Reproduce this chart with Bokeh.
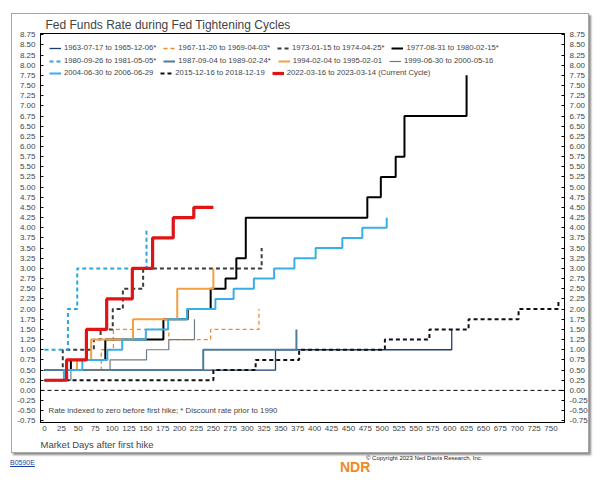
from bokeh.plotting import figure
from bokeh.layouts import column
from bokeh.models import (Range1d, FixedTicker, LinearAxis, Span, Label, Legend,
                          LegendItem, PrintfTickFormatter, Title, Div)
from bokeh.embed import file_html
from bokeh.resources import INLINE

# ---------------- data (market days after first hike, rate change) ----------------
days_1963 = [0, 342, 603]
rate_1963 = [0.5, 1.0, 1.5]

days_1967 = [0, 84, 102, 184, 246, 317.5]
rate_1967 = [0.5, 1.0, 1.5, 1.25, 1.5, 2.0]

days_1973 = [0, 27, 73, 83, 101, 116, 146, 321.5]
rate_1973 = [0.5, 1.0, 1.25, 1.5, 2.0, 2.5, 3.0, 3.5]

days_1977 = [0, 39, 90, 176, 212, 246, 268, 284, 298, 478, 498, 520, 533, 625]
rate_1977 = [0.5, 0.75, 1.25, 1.75, 2.0, 2.5, 2.75, 3.25, 4.25, 4.75, 5.25, 5.75, 6.75, 7.75]

days_1980 = [0, 34.6, 48.4, 151]
rate_1980 = [1.0, 2.0, 3.0, 4.0]

days_1987 = [0, 235, 373]
rate_1987 = [0.5, 1.0, 1.5]

days_1994 = [0, 31, 48, 69, 131, 196.5, 250]
rate_1994 = [0.25, 0.5, 0.75, 1.25, 1.75, 2.5, 3.0]

days_1999 = [0, 39, 97, 151, 184, 222]
rate_1999 = [0.25, 0.5, 0.75, 1.0, 1.25, 1.75]

days_2004 = [0, 28.6, 56, 93, 115, 150, 183, 211, 253, 280, 310, 340, 370, 401.5, 441, 470.6, 506.7]
rate_2004 = [0.25, 0.5, 0.75, 1.0, 1.25, 1.5, 1.75, 2.0, 2.25, 2.5, 2.75, 3.0, 3.25, 3.5, 3.75, 4.0, 4.25]

days_2015 = [0, 250, 312.6, 377, 504, 570, 628, 702, 761]
rate_2015 = [0.25, 0.5, 0.75, 1.0, 1.25, 1.5, 1.75, 2.0, 2.25]

days_2022 = [0, 32.6, 62, 92, 130, 160, 190.6, 221, 250]
rate_2022 = [0.25, 0.75, 1.5, 2.25, 3.0, 3.75, 4.25, 4.5, 4.5]

labels = [
    "1963-07-17 to 1965-12-06*", "1967-11-20 to 1969-04-03*", "1973-01-15 to 1974-04-25*",
    "1977-08-31 to 1980-02-15*", "1980-09-26 to 1981-05-05*", "1987-09-04 to 1989-02-24*",
    "1994-02-04 to 1995-02-01", "1999-06-30 to 2000-05-16", "2004-06-30 to 2006-06-29",
    "2015-12-16 to 2018-12-19", "2022-03-16 to 2023-03-14 (Current Cycle)",
]
x_ticks = list(range(0, 751, 25))
y_ticks = [i * 0.25 for i in range(-3, 36)]

# ---------------- styles ----------------
FONT = "'Liberation Sans Narrow', 'Liberation Sans', Arial, sans-serif"
styles = [
    dict(color="#1d3f70", width=1.3, dash="solid"),
    dict(color="#f08a2c", width=1.3, dash="4 3"),
    dict(color="#3a3a3a", width=2.0, dash="4 3"),
    dict(color="#000000", width=2.0, dash="solid"),
    dict(color="#2aa5e0", width=2.0, dash="4 3"),
    dict(color="#4d7c9c", width=2.0, dash="solid"),
    dict(color="#f5a040", width=2.0, dash="solid"),
    dict(color="#6e7d85", width=1.2, dash="solid"),
    dict(color="#38aee8", width=2.0, dash="solid"),
    dict(color="#111111", width=2.0, dash="4 3"),
    dict(color="#e01414", width=3.2, dash="solid"),
]
series = [(days_1963, rate_1963), (days_1967, rate_1967), (days_1973, rate_1973),
          (days_1977, rate_1977), (days_1980, rate_1980), (days_1987, rate_1987),
          (days_1994, rate_1994), (days_1999, rate_1999), (days_2004, rate_2004),
          (days_2015, rate_2015), (days_2022, rate_2022)]

p = figure(width=578, height=440, output_backend="svg", toolbar_location=None,
           x_range=Range1d(-6, 770), y_range=Range1d(-0.79, 8.78),
           min_border_left=28, min_border_right=26, min_border_top=19, min_border_bottom=32)
p.margin = (13, 0, 0, 11)
p.styles = {"border": "1px solid #a8a8a8", "box-shadow": "2px 2px 2px #8a8a8a"}

p.title.text = "Fed Funds Rate during Fed Tightening Cycles"
p.title.text_font = FONT
p.title.text_font_size = "12px"
p.title.text_font_style = "normal"
p.title.align = "left"
p.title.offset = 5
p.title.standoff = 3

p.grid.visible = False
p.outline_line_color = "black"
p.background_fill_color = "white"
p.border_fill_color = "white"

# axes
p.xaxis.ticker = FixedTicker(ticks=x_ticks)
p.xaxis.major_label_text_font = FONT
p.xaxis.major_label_text_font_size = "8px"
p.xaxis.major_tick_in = 0
p.xaxis.major_tick_out = 0
p.xaxis.minor_tick_line_color = None
p.xaxis.major_label_standoff = 3

p.yaxis.ticker = FixedTicker(ticks=y_ticks)
p.yaxis.formatter = PrintfTickFormatter(format="%.2f")
right_axis = LinearAxis(ticker=FixedTicker(ticks=y_ticks), formatter=PrintfTickFormatter(format="%.2f"))
p.add_layout(right_axis, "right")
for ax in (p.yaxis[0], right_axis):
    ax.major_label_text_font = FONT
    ax.major_label_text_font_size = "8px"
    ax.major_tick_in = 3
    ax.major_tick_out = 0
    ax.minor_tick_line_color = None
    ax.major_label_standoff = 5

p.add_layout(Title(text="Market Days after first hike", align="left", offset=0, standoff=7,
                   text_font=FONT, text_font_size="9.5px", text_font_style="normal"), "below")

p.add_layout(Span(location=0, dimension="width", line_color="black", line_width=1, line_dash="4 3"))

renderers = []
for (d, r), st in zip(series, styles):
    rr = p.step(x=d, y=r, mode="after", line_color=st["color"], line_width=st["width"],
                line_dash=st["dash"])
    renderers.append(rr)

rows = [[0, 1, 2, 3], [4, 5, 6, 7], [8, 9, 10]]
row_y = [370, 357, 345]
for idx, yy in zip(rows, row_y):
    lg = Legend(items=[LegendItem(label=labels[i], renderers=[renderers[i]]) for i in idx],
                location=(9, yy), orientation="horizontal")
    lg.border_line_color = None
    lg.background_fill_alpha = 0
    lg.padding = 0
    lg.margin = 0
    lg.spacing = 7
    lg.label_standoff = 3
    lg.glyph_width = 12
    lg.glyph_height = 8
    lg.label_height = 8
    lg.label_text_font = FONT
    lg.label_text_font_size = "7.7px"
    p.add_layout(lg, "center")

p.add_layout(Label(x=6, y=-0.49, text="Rate indexed to zero before first hike; * Discount rate prior to 1990",
                   text_font=FONT, text_font_size="7.8px", text_baseline="middle"))

footer_html = (
    '<div style="position:relative;width:600px;height:28px;font-family:Liberation Sans, Arial, sans-serif;">'
    '<span style="position:absolute;left:10px;top:5px;font-size:7px;color:#1a3fb0;'
    'text-decoration:underline;">B0590E</span>'
    '<span style="position:absolute;left:340px;top:4px;font-size:14px;font-weight:bold;'
    'color:#f08a20;">NDR</span>'
    '<span style="position:absolute;left:366px;top:1px;font-size:6px;color:#222;">'
    '\u00a9 Copyright 2023 Ned Davis Research, Inc.</span>'
    '</div>'
)
footer = Div(text=footer_html, width=600, height=28, margin=(0, 0, 0, 0))

layout = column(p, footer, spacing=0)
open("out.html", "w").write(file_html(layout, INLINE))
